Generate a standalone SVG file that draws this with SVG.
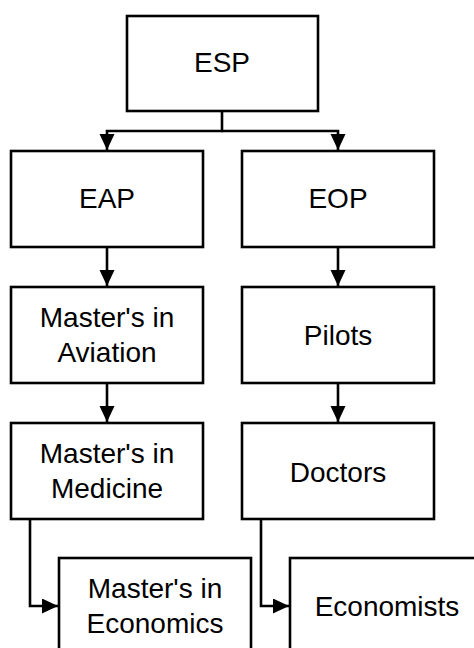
<svg xmlns="http://www.w3.org/2000/svg" width="474" height="648" viewBox="0 0 474 648">
<style>
.box{fill:#fff;stroke:#000;stroke-width:2.6}
.lbl{font-family:"Liberation Sans",Arial,sans-serif;font-size:28px;fill:#000;text-anchor:middle}
.con{fill:none;stroke:#000;stroke-width:2.6}
</style>
<defs>
<marker id="ah" markerUnits="userSpaceOnUse" markerWidth="17" markerHeight="16" refX="16" refY="7.5" orient="auto">
<path d="M0,0 L16,7.5 L0,15 z" fill="#000"/>
</marker>
</defs>
<rect width="474" height="648" fill="#fff"/>
<g id="connectors">
<path class="con" d="M222,111 V131 H107 V150" marker-end="url(#ah)"/>
<path class="con" d="M222,131 H338 V150" marker-end="url(#ah)"/>
<path class="con" d="M107,247 V286" marker-end="url(#ah)"/>
<path class="con" d="M338,247 V286" marker-end="url(#ah)"/>
<path class="con" d="M107,383 V422" marker-end="url(#ah)"/>
<path class="con" d="M338,383 V422" marker-end="url(#ah)"/>
<path class="con" d="M30,519 V606 H58" marker-end="url(#ah)"/>
<path class="con" d="M261,519 V606 H289" marker-end="url(#ah)"/>
</g>
<g id="esp"><rect class="box" x="127" y="16" width="191" height="95"/><text class="lbl" x="222" y="72">ESP</text></g>
<g id="eap"><rect class="box" x="11" y="151" width="192" height="96"/><text class="lbl" x="107" y="208">EAP</text></g>
<g id="eop"><rect class="box" x="242" y="151" width="192" height="96"/><text class="lbl" x="338" y="208">EOP</text></g>
<g id="aviation"><rect class="box" x="11" y="287" width="192" height="96"/><text class="lbl" x="107" y="327">Master's in</text><text class="lbl" x="107" y="362">Aviation</text></g>
<g id="pilots"><rect class="box" x="242" y="287" width="192" height="96"/><text class="lbl" x="338" y="345">Pilots</text></g>
<g id="medicine"><rect class="box" x="11" y="423" width="192" height="96"/><text class="lbl" x="107" y="463">Master's in</text><text class="lbl" x="107" y="498">Medicine</text></g>
<g id="doctors"><rect class="box" x="242" y="423" width="192" height="96"/><text class="lbl" x="338" y="482">Doctors</text></g>
<g id="economics"><rect class="box" x="59" y="558" width="192" height="110"/><text class="lbl" x="155" y="598">Master's in</text><text class="lbl" x="155" y="633">Economics</text></g>
<g id="economists"><rect class="box" x="290" y="558" width="210" height="110"/><text class="lbl" x="387" y="616">Economists</text></g>
</svg>
